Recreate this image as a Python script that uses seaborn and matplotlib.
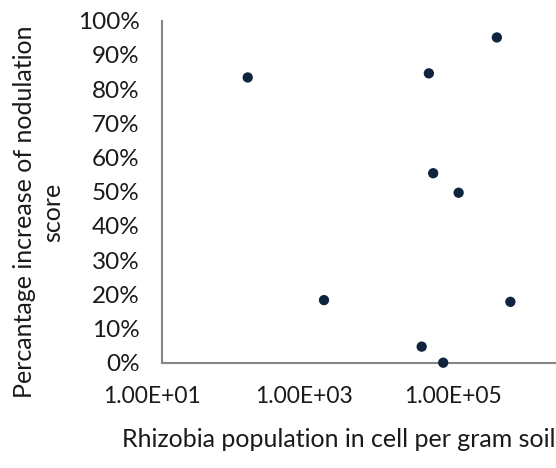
import matplotlib
matplotlib.use("Agg")
import matplotlib.pyplot as plt
import matplotlib.transforms as mtransforms
import seaborn as sns
import pandas as pd
import numpy as np
from matplotlib.ticker import FixedLocator, NullLocator

population = [119, 1070, 21900, 24800, 51600, 17800, 33100, 155000, 229000]
increase = [0.834, 0.183, 0.846, 0.554, 0.497, 0.047, 0.0, 0.951, 0.178]
x_ticks = [1e1, 1e3, 1e5]
x_tick_labels = ["1.00E+01", "1.00E+03", "1.00E+05"]
y_ticks = [0.0, 0.1, 0.2, 0.3, 0.4, 0.5, 0.6, 0.7, 0.8, 0.9, 1.0]
y_tick_labels = ["0%", "10%", "20%", "30%", "40%", "50%", "60%", "70%", "80%", "90%", "100%"]
x_title = "Rhizobia population in cell per gram soil"
y_title = "Percantage increase of nodulation\nscore"

df = pd.DataFrame({"pop": population, "inc": increase})

sns.set_style("white")
plt.rcParams["font.family"] = ["Lato", "DejaVu Sans"]

fig = plt.figure(figsize=(5.56, 4.68), dpi=100)
ax = fig.add_axes([0.2908, 0.225, 0.7092, 0.7308])

sns.scatterplot(data=df, x="pop", y="inc", ax=ax, color="#0f243e", s=55,
                edgecolor="none", legend=False, zorder=3, clip_on=False)

ax.set_xscale("log")
ax.set_xlim(10, 10 ** 5.93)
ax.set_ylim(0, 1.0)
ax.xaxis.set_major_locator(FixedLocator(x_ticks))
ax.xaxis.set_minor_locator(NullLocator())
ax.set_xticklabels(x_tick_labels)
ax.yaxis.set_major_locator(FixedLocator(y_ticks))
ax.set_yticklabels(y_tick_labels)

for s in ["top", "right"]:
    ax.spines[s].set_visible(False)
for s in ["left", "bottom"]:
    ax.spines[s].set_color("#868686")
    ax.spines[s].set_linewidth(1.5)

ax.tick_params(axis="both", which="major", direction="out", length=5, width=1.5,
               color="#868686", labelsize=17.5, labelcolor="#1a1a1a")
ax.tick_params(axis="y", pad=11)
ax.tick_params(axis="x", pad=12, labelsize=16.5)

# the reference's x labels sit slightly left of their ticks
for lab, dx in zip(ax.get_xticklabels(), [-10, -18, -29]):
    lab.set_transform(lab.get_transform() +
                      mtransforms.ScaledTranslation(dx / 100, 0, fig.dpi_scale_trans))

ax.set_xlabel("")
ax.set_ylabel("")
fig.text(1.0, 0.06, x_title, fontsize=18, color="#1a1a1a", ha="right", va="center")
fig.text(0.069, 0.547, y_title, fontsize=18, color="#1a1a1a", ha="center",
         va="center", rotation=90, multialignment="center", linespacing=1.3)

fig.savefig("out.png", dpi=100)
